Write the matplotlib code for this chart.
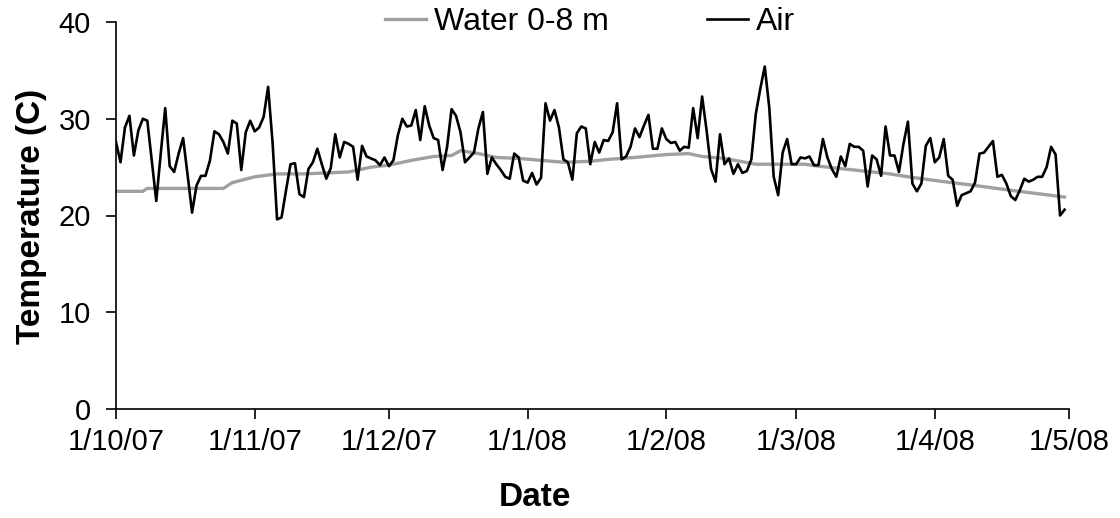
import numpy as np
import matplotlib
matplotlib.use('Agg')
import matplotlib.pyplot as plt
import matplotlib.dates as mdates
from matplotlib.ticker import FuncFormatter
import pandas as pd

plt.rcParams['font.family'] = ['Liberation Sans', 'DejaVu Sans']

# daily mean air temperature, 1 Oct 2007 - 30 Apr 2008
air_oct = [27.6, 25.5, 29.1, 30.3, 26.2, 28.8, 30.0, 29.8, 25.7, 21.5, 26.4, 31.1, 25.1, 24.5, 26.4, 28.0,
           24.2, 20.3, 23.1, 24.1, 24.1, 25.7, 28.7, 28.4, 27.6, 26.4, 29.8, 29.5, 24.7, 28.6, 29.8]
air_nov = [28.7, 29.1, 30.2, 33.3, 27.5, 19.6, 19.8, 22.6, 25.3, 25.4, 22.2, 21.9, 24.8, 25.5, 26.9,
           25.3, 23.8, 24.9, 28.4, 26.0, 27.6, 27.4, 27.1, 23.7, 27.2, 26.1, 25.9, 25.7, 25.2, 26.0]
air_dec = [25.1, 25.7, 28.3, 30.0, 29.2, 29.3, 30.9, 27.8, 31.3, 29.3, 28.0, 27.8, 24.7, 27.1, 31.0, 30.3,
           28.6, 25.5, 26.0, 26.5, 29.0, 30.7, 24.3, 26.0, 25.3, 24.7, 24.0, 23.8, 26.4, 26.0, 23.6]
air_jan = [23.4, 24.4, 23.2, 23.9, 31.6, 29.8, 30.9, 29.1, 25.8, 25.5, 23.7, 28.5, 29.2, 29.0, 25.3, 27.6,
           26.5, 27.8, 27.7, 28.6, 31.6, 25.8, 26.1, 27.1, 29.0, 28.1, 29.3, 30.4, 26.9, 26.9, 29.0]
air_feb = [27.9, 27.5, 27.6, 26.7, 27.1, 27.0, 31.1, 28.0, 32.3, 28.8, 24.8, 23.5, 28.4, 25.3, 25.9,
           24.3, 25.3, 24.4, 24.6, 25.8, 30.5, 33.1, 35.4, 31.2, 24.0, 22.1, 26.5, 27.9, 25.3]
air_mar = [25.3, 26.0, 25.9, 26.1, 25.2, 25.2, 27.9, 26.0, 24.8, 24.0, 26.1, 25.1, 27.4, 27.1, 27.1, 26.7,
           23.0, 26.2, 25.8, 24.1, 29.2, 26.2, 26.2, 24.5, 27.4, 29.7, 23.3, 22.5, 23.3, 27.2, 28.0]
air_apr = [25.5, 26.0, 27.9, 24.1, 23.7, 21.0, 22.1, 22.3, 22.5, 23.4, 26.4, 26.5, 27.1, 27.7, 24.0,
           24.2, 23.3, 22.0, 21.6, 22.6, 23.8, 23.5, 23.7, 24.0, 24.0, 25.0, 27.1, 26.3, 20.0, 20.6]

# mean water temperature over 0-8 m depth
water_dates = ['2007-10-01', '2007-10-07', '2007-10-08', '2007-10-25', '2007-10-27', '2007-11-01',
               '2007-11-06', '2007-11-12', '2007-11-22', '2007-11-27', '2007-12-01', '2007-12-06',
               '2007-12-11', '2007-12-15', '2007-12-17', '2007-12-21', '2007-12-25', '2007-12-30',
               '2008-01-04', '2008-01-09', '2008-01-15', '2008-01-19', '2008-01-25', '2008-02-01',
               '2008-02-06', '2008-02-09', '2008-02-14', '2008-02-21', '2008-02-27', '2008-03-03',
               '2008-03-06', '2008-03-12', '2008-03-18', '2008-03-22', '2008-03-26', '2008-04-03',
               '2008-04-10', '2008-04-18', '2008-04-25', '2008-04-30']
water_temp = [22.5, 22.5, 22.8, 22.8, 23.4, 24.0, 24.3, 24.3, 24.5, 25.0, 25.2, 25.7, 26.1, 26.2,
              26.7, 26.4, 26.0, 25.9, 25.7, 25.5, 25.6, 25.8, 26.0, 26.3, 26.4, 26.1, 25.9, 25.3,
              25.3, 25.3, 25.1, 24.8, 24.5, 24.3, 24.0, 23.5, 23.1, 22.6, 22.2, 21.9]

month_ticks = ['2007-10-01', '2007-11-01', '2007-12-01', '2008-01-01',
               '2008-02-01', '2008-03-01', '2008-04-01', '2008-05-01']


def date_label(x, pos):
    d = mdates.num2date(x)
    return '%d/%d/%02d' % (d.day, d.month, d.year % 100)


air = np.array(air_oct + air_nov + air_dec + air_jan + air_feb + air_mar + air_apr)
air_dates = pd.date_range('2007-10-01', periods=len(air), freq='D')
wdates = pd.to_datetime(water_dates)
ticks = pd.to_datetime(month_ticks)

fig = plt.figure(figsize=(11.2, 5.18), dpi=100)
ax = fig.add_axes([116 / 1120, 1 - 409 / 518, (1069 - 116) / 1120, (409 - 22) / 518])

ax.plot(wdates, water_temp, color='#a0a0a0', lw=2.4, label='Water 0-8 m')
ax.plot(air_dates, air, color='black', lw=1.9, label='Air')

ax.set_xlim(ticks[0], ticks[-1])
ax.set_ylim(0, 40)
ax.set_yticks([0, 10, 20, 30, 40])
ax.set_xticks(ticks)
ax.xaxis.set_major_formatter(FuncFormatter(date_label))

for s in ['top', 'right']:
    ax.spines[s].set_visible(False)
ax.spines['left'].set_linewidth(1.2)
ax.spines['bottom'].set_linewidth(1.2)
ax.tick_params(axis='both', direction='out', length=7, width=1.2, labelsize=21)
ax.tick_params(axis='y', pad=11)
ax.tick_params(axis='x', pad=7)

fig.text(32 / 1120, 1 - 216 / 518, 'Temperature (C)', rotation=90, ha='center', va='center',
         fontsize=24, fontweight='bold')
fig.text(535 / 1120, 1 - 497 / 518, 'Date', ha='center', va='center', fontsize=24, fontweight='bold')

fig.legend(loc='center', bbox_to_anchor=(590 / 1120, 1 - 22 / 518), ncol=2, frameon=False,
           fontsize=23, handlelength=1.3, handletextpad=0.25, columnspacing=3.05,
           borderaxespad=0, borderpad=0)

fig.savefig('out.png', dpi=100)
